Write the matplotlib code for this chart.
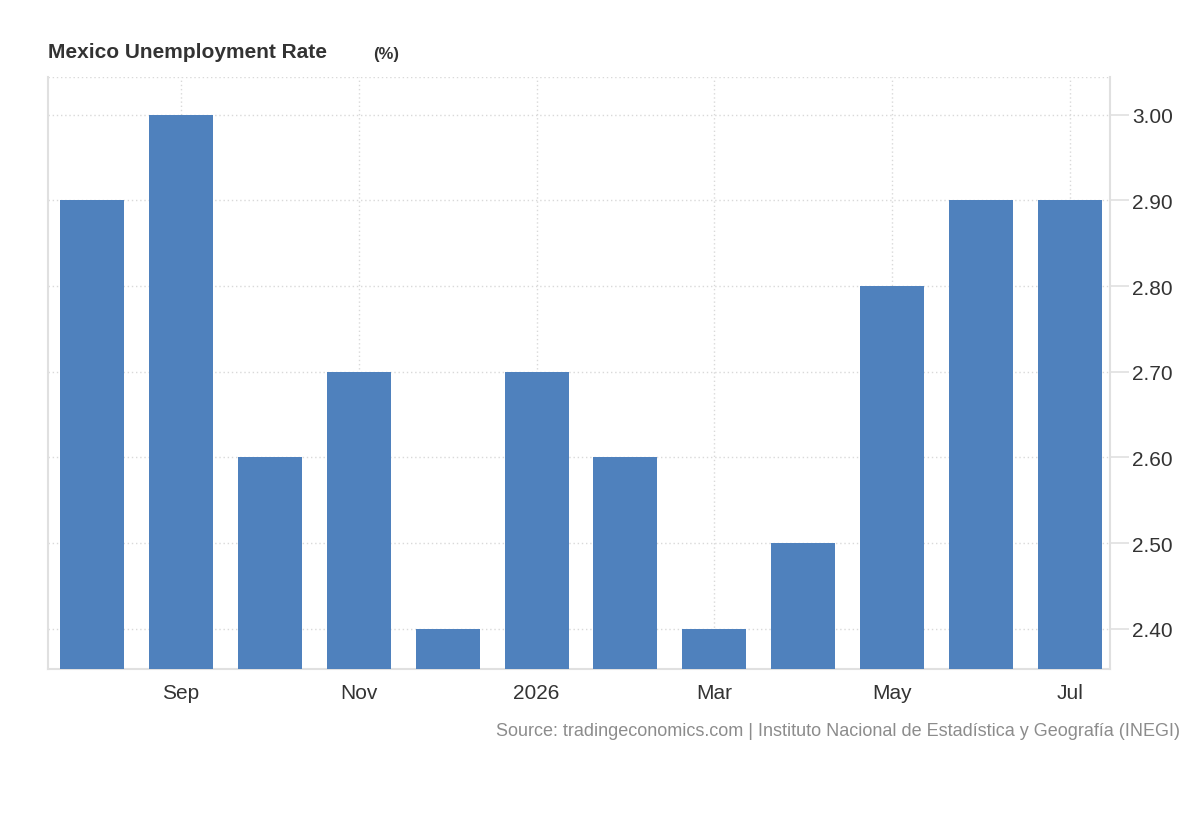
import matplotlib
matplotlib.use("Agg")
import matplotlib.pyplot as plt

plt.rcParams["font.family"] = ["Liberation Sans", "DejaVu Sans"]

months = ["Aug", "Sep", "Oct", "Nov", "Dec", "2026", "Feb", "Mar", "Apr", "May", "Jun", "Jul"]
rates = [2.9, 3.0, 2.6, 2.7, 2.4, 2.7, 2.6, 2.4, 2.5, 2.8, 2.9, 2.9]
shown = ["Sep", "Nov", "2026", "Mar", "May", "Jul"]
yticks = [2.4, 2.5, 2.6, 2.7, 2.8, 2.9, 3.0]

BAR = "#4f81bd"
GRID = "#d9d9d9"
SPINE = "#e0e0e0"

fig = plt.figure(figsize=(12, 8.2), dpi=100)
ax = fig.add_axes([48 / 1200, 1 - 670 / 820, (1110 - 48) / 1200, (670 - 78) / 820])

x = list(range(len(months)))
ax.bar(x, rates, width=0.72, color=BAR, zorder=3)

ax.set_xlim(-0.495, 11.45)
ax.set_ylim(2.353, 3.044)

tick_pos = [i for i, m in enumerate(months) if m in shown]
ax.set_xticks(tick_pos)
ax.set_xticklabels(shown, fontsize=15, color="#333333")
ax.tick_params(axis="x", length=0, pad=10)

ax.yaxis.tick_right()
ax.set_yticks(yticks)
ax.set_yticklabels([f"{v:.2f}" for v in yticks], fontsize=15, color="#333333")
ax.tick_params(axis="y", length=14, color=SPINE, width=1.2, pad=2)

ax.grid(True, color=GRID, linestyle=(0, (1, 2)), linewidth=1, zorder=0)
ax.axhline(3.044, color=GRID, linestyle=(0, (1, 2)), linewidth=1, zorder=0)

for side in ["left", "right", "bottom"]:
    ax.spines[side].set_color(SPINE)
    ax.spines[side].set_linewidth(1.5)
ax.spines["top"].set_visible(False)

fig.text(48 / 1200, 1 - 52 / 820, "Mexico Unemployment Rate", fontsize=15,
         fontweight="bold", color="#333333", va="center")
fig.text(373 / 1200, 1 - 54 / 820, "(%)", fontsize=12, fontweight="bold",
         color="#333333", va="center")
fig.text(1180 / 1200, 1 - 732 / 820,
         "Source: tradingeconomics.com | Instituto Nacional de Estadística y Geografía (INEGI)",
         fontsize=13, color="#8c8c8c", ha="right", va="center")

fig.savefig("out.png", dpi=100, facecolor="white")
